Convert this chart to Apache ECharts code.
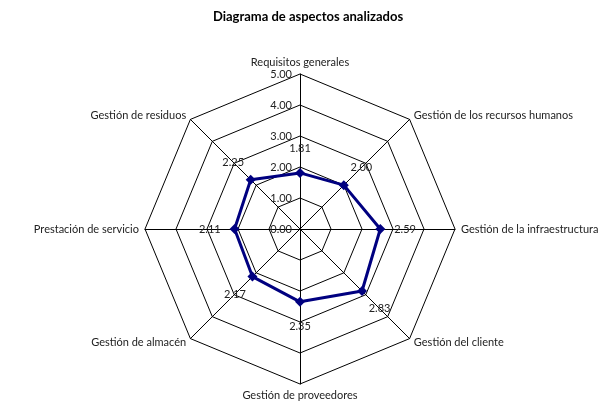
<!DOCTYPE html>
<html>
<head>
<meta charset="utf-8">
<script src="https://cdn.jsdelivr.net/npm/echarts@6/dist/echarts.min.js"></script>
<style>
  html, body { margin: 0; padding: 0; background: #fff; }
  #chart { width: 616px; height: 419px; }
</style>
</head>
<body>
<div id="chart"></div>
<script>
// Aspectos en sentido horario desde arriba
const aspectos = [
  'Requisitos generales',
  'Gestión de los recursos humanos',
  'Gestión de la infraestructura',
  'Gestión del cliente',
  'Gestión de proveedores',
  'Gestión de almacén',
  'Prestación de servicio',
  'Gestión de residuos'
];
const valores = [1.81, 2.00, 2.59, 2.83, 2.35, 2.17, 2.11, 2.25];
const escalaMax = 5;
const desplazamientoEtiqueta = 0.8; // etiquetas un poco hacia fuera del punto

const FONT = 'Lato, "DejaVu Sans", sans-serif';

// ECharts reparte los ejes en sentido antihorario: invertimos la cola
function ordenHorario(arr) {
  return [arr[0]].concat(arr.slice(1).reverse());
}

const indicadores = ordenHorario(aspectos).map((name, i) => ({
  name,
  max: escalaMax,
  min: 0,
  axisLabel: { show: i === 0 }
}));

const chart = echarts.init(document.getElementById('chart'));
chart.setOption({
  animation: false,
  title: {
    text: 'Diagrama de aspectos analizados',
    left: 'center',
    top: 5,
    textStyle: { fontFamily: FONT, fontSize: 13, fontWeight: 'bold', color: '#000' }
  },
  radar: {
    center: [300, 229],
    radius: 155,
    startAngle: 90,
    shape: 'polygon',
    splitNumber: 5,
    indicator: indicadores,
    axisName: { color: '#222', fontFamily: FONT, fontSize: 11 },
    nameGap: 6,
    axisLine: { lineStyle: { color: '#000', width: 1 } },
    splitLine: { lineStyle: { color: '#000', width: 1 } },
    splitArea: { show: false },
    axisTick: { show: false },
    axisLabel: {
      color: '#222',
      fontFamily: FONT,
      fontSize: 11,
      formatter: v => v.toFixed(2)
    }
  },
  series: [
    {
      type: 'radar',
      symbol: 'diamond',
      symbolSize: 10,
      lineStyle: { color: '#000080', width: 3 },
      itemStyle: { color: '#000080' },
      data: [{ value: ordenHorario(valores) }]
    },
    {
      // serie invisible que sólo lleva las etiquetas de valor
      type: 'radar',
      symbol: 'circle',
      symbolSize: 2,
      itemStyle: { color: 'rgba(0,0,0,0)', borderWidth: 0 },
      lineStyle: { color: 'rgba(0,0,0,0)', width: 0 },
      silent: true,
      label: {
        show: true,
        position: 'inside',
        color: '#222',
        fontFamily: FONT,
        fontSize: 11,
        formatter: p => ordenHorario(valores)[p.dimensionIndex].toFixed(2)
      },
      data: [{ value: ordenHorario(valores).map(v => v + desplazamientoEtiqueta) }]
    }
  ]
});
</script>
</body>
</html>
